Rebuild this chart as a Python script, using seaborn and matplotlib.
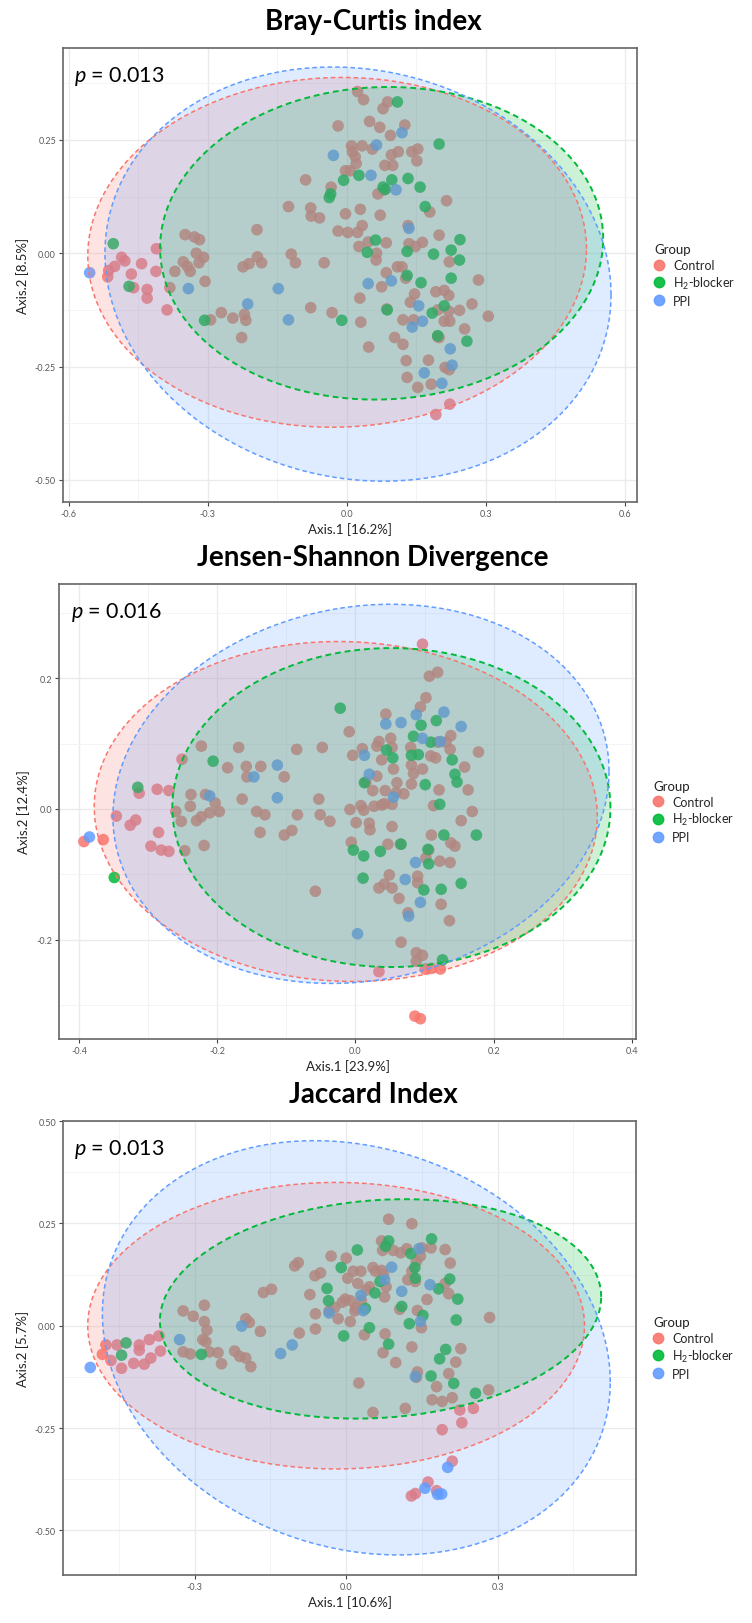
import numpy as np
import pandas as pd
import seaborn as sns
import matplotlib.pyplot as plt
from matplotlib.lines import Line2D

# ---------------- data (PCoA coordinates) ----------------
groups = ["Control", "H$_2$-blocker", "PPI"]
colors = ["#F8766D", "#00BA38", "#619CFF"]

titles = ["Bray-Curtis index", "Jensen-Shannon Divergence", "Jaccard Index"]
p_values = ["0.013", "0.016", "0.013"]
x_labels = ["Axis.1 [16.2%]", "Axis.1 [23.9%]", "Axis.1 [10.6%]"]
y_labels = ["Axis.2 [8.5%]", "Axis.2 [12.4%]", "Axis.2 [5.7%]"]

# Bray-Curtis
bc_control = [
    (-0.486, -0.009), (-0.479, -0.017), (-0.501, -0.029), (-0.514, -0.038), (-0.516, -0.052),
    (-0.465, -0.046), (-0.443, -0.023), (-0.411, 0.010), (-0.412, -0.040), (-0.431, -0.080),
    (-0.431, -0.099), (-0.460, -0.076), (-0.382, -0.076), (-0.388, -0.125),
    (-0.349, 0.041), (-0.329, 0.036), (-0.318, 0.030), (-0.325, 0.000), (-0.309, -0.009),
    (-0.353, -0.019), (-0.344, -0.029), (-0.338, -0.040), (-0.319, -0.021), (-0.371, -0.040),
    (-0.306, -0.062), (-0.294, -0.147), (-0.271, -0.131), (-0.246, -0.143), (-0.221, -0.135),
    (-0.218, -0.148), (-0.227, -0.186), (-0.224, -0.030), (-0.211, -0.023), (-0.194, 0.052),
    (-0.193, -0.008), (-0.184, -0.021), (-0.126, 0.103), (-0.120, -0.002), (-0.111, -0.021),
    (-0.089, 0.162), (-0.078, 0.100), (-0.077, 0.082), (-0.059, 0.078), (-0.049, -0.021),
    (-0.078, -0.120), (-0.032, -0.131), (-0.034, 0.146), (-0.019, 0.281), (-0.019, 0.049),
    (-0.003, 0.182), (0.010, 0.237), (0.012, 0.224), (0.018, 0.213), (0.020, 0.198),
    (0.007, 0.182), (0.033, 0.237), (0.023, 0.357), (0.036, 0.339), (0.049, 0.291),
    (0.055, 0.230), (0.071, 0.278), (0.078, 0.319), (0.088, 0.334), (0.082, 0.194),
    (0.099, 0.194), (0.096, 0.217), (0.094, 0.260), (0.111, 0.224), (0.125, 0.283),
    (0.140, 0.224), (0.153, 0.230), (0.151, 0.204), (0.067, 0.131), (0.080, 0.140),
    (-0.003, 0.087), (0.029, 0.097), (0.072, 0.084), (0.002, 0.046), (0.023, 0.046),
    (0.033, 0.061), (0.026, 0.015), (0.046, 0.025), (0.064, 0.000), (0.063, -0.015),
    (0.085, 0.023), (0.109, -0.030), (0.119, -0.030), (0.085, -0.043), (0.075, -0.074),
    (0.127, -0.055), (0.028, -0.099), (0.030, -0.152), (0.047, -0.207), (0.086, -0.123),
    (0.103, -0.186), (0.121, -0.201), (0.121, -0.147), (0.137, -0.108), (0.146, -0.090),
    (0.144, -0.147), (0.128, -0.237), (0.130, -0.274), (0.153, -0.296), (0.176, -0.236),
    (0.182, -0.289), (0.134, 0.021), (0.148, 0.015), (0.163, 0.024), (0.132, 0.061),
    (0.199, 0.040), (0.215, 0.116), (0.179, 0.091), (0.192, -0.085), (0.210, -0.082),
    (0.220, -0.093), (0.221, -0.019), (0.220, -0.128), (0.196, -0.125), (0.210, -0.150),
    (0.222, -0.150), (0.243, -0.126), (0.270, -0.112), (0.254, -0.167), (0.284, -0.059),
    (0.305, -0.139), (0.196, -0.184), (0.199, -0.186), (0.212, -0.252), (0.221, -0.257),
    (0.192, -0.356), (0.222, -0.333),
]
bc_h2 = [
    (-0.504, 0.021), (-0.470, -0.073), (-0.307, -0.148), (-0.038, 0.123), (-0.035, 0.131),
    (-0.007, 0.161), (0.026, 0.172), (0.078, 0.146), (0.083, 0.141), (0.097, 0.162),
    (0.109, 0.334), (0.132, 0.165), (0.158, 0.146), (0.169, 0.103), (0.199, 0.241),
    (0.062, 0.029), (0.044, 0.002), (0.130, 0.004), (0.187, -0.002), (0.225, 0.007),
    (0.244, 0.030), (0.243, -0.015), (0.225, -0.055), (0.160, -0.065), (0.130, -0.049),
    (0.087, -0.125), (0.184, -0.132), (0.210, -0.116), (-0.011, -0.148), (0.196, -0.182),
    (0.259, -0.194),
]
bc_ppi = [
    (-0.555, -0.043), (-0.342, -0.078), (-0.214, -0.112), (-0.148, -0.078), (-0.126, -0.147),
    (-0.029, 0.216), (0.064, 0.239), (0.052, 0.172), (0.106, 0.140), (0.119, 0.266),
    (0.134, 0.055), (0.046, -0.067), (0.096, -0.061), (0.155, -0.116), (0.163, -0.150),
    (0.141, -0.163), (0.223, -0.211), (0.227, -0.247), (0.167, -0.264), (0.205, -0.287),
]
# 95% ellipses: centre x, centre y, half-width, half-height, correlation
bc_ellipses = [
    (-0.021, 0.002, 0.538, 0.386, 0.02),
    (0.075, 0.022, 0.478, 0.345, 0.03),
    (0.024, -0.046, 0.546, 0.457, -0.10),
]

# Jensen-Shannon
js_control = [
    (0.097, 0.252), (0.107, 0.203), (0.119, 0.209), (0.102, 0.170), (0.094, 0.156),
    (0.044, 0.145), (-0.009, 0.118), (0.031, 0.096), (0.034, 0.103), (0.051, 0.108),
    (0.053, 0.094), (0.010, 0.092), (-0.004, 0.082), (0.038, 0.075), (0.055, 0.061),
    (0.080, 0.094), (0.081, 0.067), (0.084, 0.054), (0.097, 0.061), (0.109, 0.081),
    (0.116, 0.078), (0.119, 0.102), (0.131, 0.102), (0.138, 0.112), (0.137, 0.091),
    (0.158, 0.064), (0.178, 0.087), (0.163, 0.029), (0.121, 0.029), (0.113, 0.005),
    (0.169, -0.004), (0.153, -0.018), (0.110, -0.040), (0.138, -0.052), (0.144, -0.057),
    (0.122, -0.080), (0.137, -0.082), (0.102, -0.075), (0.106, -0.063), (0.081, 0.038),
    (0.070, 0.023), (0.060, 0.040), (0.059, 0.025), (0.043, 0.028), (0.042, 0.008),
    (0.038, 0.006), (0.027, 0.004), (0.012, -0.002), (0.008, 0.005), (0.015, 0.041),
    (0.025, 0.028), (0.053, 0.007), (0.031, 0.050), (0.020, -0.022), (0.021, -0.032),
    (0.053, -0.027), (0.047, -0.054), (0.065, -0.054), (-0.006, -0.051), (0.042, -0.115),
    (0.034, -0.121), (0.049, -0.101), (0.053, -0.121), (0.063, -0.137), (0.076, -0.159),
    (0.090, -0.103), (0.090, -0.113), (0.124, -0.146), (0.136, -0.171), (0.066, -0.204),
    (0.088, -0.220), (0.097, -0.224), (0.088, -0.233), (0.034, -0.249), (0.101, -0.245),
    (0.110, -0.244), (0.123, -0.245), (0.086, -0.317), (0.094, -0.321),
    (-0.251, 0.076), (-0.223, 0.096), (-0.169, 0.094), (-0.085, 0.091), (-0.048, 0.094),
    (-0.185, 0.063), (-0.158, 0.065), (-0.137, 0.065), (-0.157, 0.049), (-0.103, 0.049),
    (-0.238, 0.022), (-0.217, 0.022), (-0.239, 0.004), (-0.203, 0.009), (-0.197, -0.004),
    (-0.211, -0.006), (-0.223, -0.012), (-0.230, -0.018), (-0.252, -0.019), (-0.260, -0.004),
    (-0.247, -0.064), (-0.219, -0.056), (-0.164, 0.015), (-0.143, -0.004), (-0.131, -0.009),
    (-0.084, -0.009), (-0.053, 0.015), (-0.051, -0.009), (-0.037, -0.019), (-0.092, -0.033),
    (-0.103, -0.040), (-0.138, -0.036), (-0.058, -0.126), (-0.008, -0.001), (0.001, -0.021),
    (-0.346, -0.011), (-0.326, -0.025), (-0.318, -0.017), (-0.313, 0.024), (-0.287, 0.030),
    (-0.270, 0.028), (-0.285, -0.036), (-0.296, -0.057), (-0.281, -0.063), (-0.270, -0.065),
    (-0.393, -0.050), (-0.365, -0.047),
]
js_h2 = [
    (-0.022, 0.154), (-0.206, 0.073), (-0.315, 0.033), (-0.349, -0.105), (-0.003, -0.063),
    (0.012, -0.072), (0.011, -0.106), (0.036, -0.065), (0.066, -0.054), (0.105, -0.062),
    (0.106, -0.084), (0.099, -0.124), (0.124, -0.123), (0.153, -0.114), (0.128, -0.040),
    (0.175, -0.040), (0.122, 0.007), (0.101, 0.037), (0.147, 0.041), (0.144, 0.053),
    (0.140, 0.075), (0.109, 0.102), (0.095, 0.128), (0.117, 0.135), (0.084, 0.111),
    (0.045, 0.090), (0.054, 0.078), (0.081, 0.082), (0.091, 0.083), (0.013, 0.040),
    (0.126, -0.231),
]
js_ppi = [
    (-0.385, -0.043), (-0.211, 0.020), (-0.147, 0.049), (-0.113, 0.067), (-0.113, 0.017),
    (0.013, 0.082), (0.020, 0.053), (0.055, 0.018), (0.044, 0.130), (0.066, 0.132),
    (0.088, 0.144), (0.097, 0.108), (0.128, 0.148), (0.153, 0.126), (0.087, -0.082),
    (0.072, -0.108), (0.094, -0.143), (0.077, -0.164), (0.003, -0.191), (0.123, 0.103),
]
js_ellipses = [
    (-0.014, -0.004, 0.364, 0.260, -0.03),
    (0.052, 0.002, 0.317, 0.244, 0.00),
    (0.008, 0.023, 0.359, 0.290, 0.12),
]

# Jaccard
jc_control = [
    (-0.483, -0.070), (-0.476, -0.047), (-0.454, -0.047), (-0.466, -0.085), (-0.445, -0.104),
    (-0.421, -0.092), (-0.410, -0.047), (-0.410, -0.060), (-0.400, -0.094), (-0.390, -0.034),
    (-0.387, -0.079), (-0.371, -0.025), (-0.368, -0.062), (-0.323, 0.036), (-0.303, 0.023),
    (-0.281, 0.050), (-0.281, 0.010), (-0.276, -0.011), (-0.284, -0.034), (-0.278, -0.039),
    (-0.323, -0.064), (-0.309, -0.069), (-0.271, -0.064), (-0.254, -0.066), (-0.247, -0.093),
    (-0.221, -0.062), (-0.211, -0.075), (-0.199, -0.079), (-0.189, -0.100), (-0.199, 0.017),
    (-0.192, 0.008), (-0.170, -0.014), (-0.164, 0.081), (-0.148, 0.089), (-0.102, 0.146),
    (-0.095, 0.154), (-0.093, -0.018), (-0.072, 0.076), (-0.062, 0.122), (-0.051, 0.129),
    (-0.061, 0.029), (-0.061, -0.008), (-0.030, 0.170), (-0.034, 0.036), (-0.023, 0.044),
    (-0.016, 0.017), (-0.008, 0.057), (-0.002, 0.065), (0.000, 0.165), (0.008, 0.061),
    (0.003, 0.116), (0.014, 0.133), (0.023, 0.103), (0.029, 0.133), (0.030, 0.061),
    (0.019, 0.044), (0.008, 0.010), (0.017, 0.036), (0.036, -0.022), (0.040, 0.087),
    (0.046, 0.095), (0.053, 0.142), (0.058, 0.133), (0.070, 0.207), (0.072, 0.184),
    (0.070, 0.135), (0.074, 0.125), (0.076, 0.070), (0.079, 0.095), (0.084, 0.260),
    (0.093, 0.184), (0.108, 0.178), (0.120, 0.188), (0.122, 0.112), (0.130, 0.249),
    (0.130, 0.133), (0.137, 0.108), (0.139, 0.157), (0.147, 0.170), (0.150, 0.190),
    (0.160, 0.064), (0.168, 0.190), (0.196, 0.186), (0.206, 0.153), (0.203, 0.078),
    (0.196, 0.103), (0.149, -0.005), (0.141, 0.037), (0.106, 0.040), (0.077, -0.020),
    (0.073, -0.066), (0.098, -0.090), (0.130, -0.052), (0.141, -0.113), (0.139, -0.126),
    (0.203, -0.117), (0.217, -0.089), (0.227, -0.056), (0.179, -0.149), (0.170, -0.181),
    (0.190, -0.185), (0.210, -0.176), (0.284, 0.020), (0.282, -0.157), (0.025, -0.140),
    (0.053, -0.212), (0.117, -0.202), (0.225, -0.206), (0.252, -0.202), (0.229, -0.237),
    (0.190, -0.254), (0.210, -0.331), (0.162, -0.382), (0.179, -0.403), (0.137, -0.410),
    (0.129, -0.416),
]
jc_h2 = [
    (-0.436, -0.042), (-0.445, -0.072), (-0.287, -0.070), (-0.038, 0.091), (-0.035, 0.061),
    (-0.010, 0.142), (0.022, 0.185), (0.078, 0.194), (0.084, 0.207), (0.128, 0.176),
    (0.136, 0.142), (0.137, 0.116), (0.169, 0.212), (0.183, 0.090), (0.205, 0.114),
    (0.221, 0.065), (0.218, 0.014), (0.152, 0.025), (0.125, 0.005), (0.110, 0.047),
    (0.067, 0.108), (0.057, 0.080), (0.038, 0.042), (0.046, -0.005), (-0.005, -0.025),
    (0.084, -0.045), (0.197, -0.058), (0.185, -0.081), (0.168, -0.123), (0.213, -0.141),
    (0.256, -0.165),
]
jc_ppi = [
    (-0.507, -0.102), (-0.330, -0.034), (-0.207, -0.001), (-0.130, -0.068), (-0.107, -0.047),
    (-0.034, 0.031), (0.034, 0.037), (0.029, 0.074), (0.076, 0.112), (0.090, 0.143),
    (0.110, 0.084), (0.144, 0.188), (0.166, 0.100), (0.147, 0.010), (0.137, -0.124),
    (0.201, -0.346), (0.156, -0.397), (0.181, -0.412), (0.189, -0.411),
]
jc_ellipses = [
    (-0.020, 0.000, 0.492, 0.350, 0.00),
    (0.068, 0.041, 0.437, 0.268, 0.11),
    (0.020, -0.054, 0.503, 0.506, -0.165),
]

# axis ranges and ticks
x_limits = [(-0.6125, 0.626), (-0.429, 0.406), (-0.561, 0.574)]
y_limits = [(-0.549, 0.453), (-0.352, 0.344), (-0.609, 0.50)]
x_ticks = [[-0.6, -0.3, 0.0, 0.3, 0.6], [-0.4, -0.2, 0.0, 0.2, 0.4], [-0.3, 0.0, 0.3]]
x_ticklabels = [["-0.6", "-0.3", "0.0", "0.3", "0.6"], ["-0.4", "-0.2", "0.0", "0.2", "0.4"],
                ["-0.3", "0.0", "0.3"]]
y_ticks = [[-0.5, -0.25, 0.0, 0.25], [-0.2, 0.0, 0.2], [-0.5, -0.25, 0.0, 0.25, 0.5]]
y_ticklabels = [["-0.50", "-0.25", "0.00", "0.25"], ["-0.2", "0.0", "0.2"],
                ["-0.50", "-0.25", "0.00", "0.25", "0.50"]]
x_minor_step = [0.15, 0.1, 0.15]
y_minor_step = [0.125, 0.1, 0.125]

panels = [
    (bc_control, bc_h2, bc_ppi, bc_ellipses),
    (js_control, js_h2, js_ppi, js_ellipses),
    (jc_control, jc_h2, jc_ppi, jc_ellipses),
]

# ---------------- style ----------------
sns.set_theme(style="white")
plt.rcParams["font.family"] = ["Lato", "DejaVu Sans"]
plt.rcParams["mathtext.fontset"] = "custom"
plt.rcParams["mathtext.rm"] = "Lato"
plt.rcParams["mathtext.it"] = "Lato:italic"
plt.rcParams["mathtext.default"] = "regular"

fig = plt.figure(figsize=(7.52, 16.24), dpi=100)
W, H = 752, 1624
# axes boxes in pixels: left, top, right, bottom
boxes = [(63, 49, 637, 503), (59, 585, 636, 1040), (63, 1122, 636, 1576)]


def ellipse_outline(cx, cy, hx, hy, r, n=240):
    t = np.linspace(0, 2 * np.pi, n)
    ex = cx + hx * np.cos(t)
    ey = cy + hy * (r * np.cos(t) + np.sqrt(1 - r ** 2) * np.sin(t))
    return ex, ey


for i, (ctrl, h2, ppi, ells) in enumerate(panels):
    l, t, r, b = boxes[i]
    ax = fig.add_axes([l / W, 1 - b / H, (r - l) / W, (b - t) / H])

    frames = []
    for name, pts in zip(groups, [ctrl, h2, ppi]):
        arr = np.array(pts)
        frames.append(pd.DataFrame({"Axis1": arr[:, 0], "Axis2": arr[:, 1], "Group": name}))
    df = pd.concat(frames, ignore_index=True)

    sns.scatterplot(data=df, x="Axis1", y="Axis2", hue="Group", hue_order=groups,
                    palette=colors, s=70, alpha=0.85, linewidth=0, legend=False,
                    ax=ax, zorder=2)

    for (cx, cy, hx, hy, rr), col in zip(ells, colors):
        ex, ey = ellipse_outline(cx, cy, hx, hy, rr)
        ax.fill(ex, ey, color=col, alpha=0.2, lw=0, zorder=3)
    for (cx, cy, hx, hy, rr), col in zip(ells, colors):
        ex, ey = ellipse_outline(cx, cy, hx, hy, rr)
        ax.plot(ex, ey, color=col, lw=1.1 if col != "#00BA38" else 1.4,
                ls=(0, (3, 2)), zorder=4)

    ax.set_xlim(*x_limits[i])
    ax.set_ylim(*y_limits[i])
    ax.set_xticks(x_ticks[i])
    ax.set_xticklabels(x_ticklabels[i])
    ax.set_yticks(y_ticks[i])
    ax.set_yticklabels(y_ticklabels[i])
    xm = np.arange(-1.2, 1.2001, x_minor_step[i])
    ym = np.arange(-1.0, 1.0001, y_minor_step[i])
    ax.set_xticks(xm[(xm > x_limits[i][0]) & (xm < x_limits[i][1])], minor=True)
    ax.set_yticks(ym[(ym > y_limits[i][0]) & (ym < y_limits[i][1])], minor=True)
    ax.grid(which="major", color="#EBEBEB", lw=1.0)
    ax.grid(which="minor", color="#F3F3F3", lw=0.6)
    ax.set_axisbelow(True)
    ax.tick_params(which="major", length=3, width=0.8, color="#444444",
                   labelsize=6.5, labelcolor="#5A5A5A", pad=2, bottom=True, left=True)
    ax.tick_params(which="minor", length=0)
    for sp in ax.spines.values():
        sp.set_color("#666666")
        sp.set_linewidth(1.2)

    ax.set_xlabel(x_labels[i], fontsize=9.5, color="#222222", labelpad=3)
    ax.set_ylabel(y_labels[i], fontsize=9.5, color="#222222", labelpad=4)

    ax.text(0.02, 0.965, r"$\mathit{p}$ = " + p_values[i], transform=ax.transAxes,
            fontsize=15.5, ha="left", va="top", color="black", zorder=6)

    fig.text(0.496, 1 - (t - 27) / H, titles[i], fontsize=20, fontweight="bold",
             ha="center", va="center", color="black")

    handles = [Line2D([], [], marker="o", ls="", color=c, markersize=7.5, alpha=0.9)
               for c in colors]
    leg = ax.legend(handles, groups, title="Group", loc="center left",
                    bbox_to_anchor=(1.03, 0.5), frameon=False, fontsize=9,
                    title_fontsize=9.5, handlelength=0.8, handletextpad=0.7,
                    labelspacing=0.3, borderaxespad=0, borderpad=0, alignment="left")
    leg.get_title().set_color("#222222")

fig.savefig("out.png", dpi=100)
